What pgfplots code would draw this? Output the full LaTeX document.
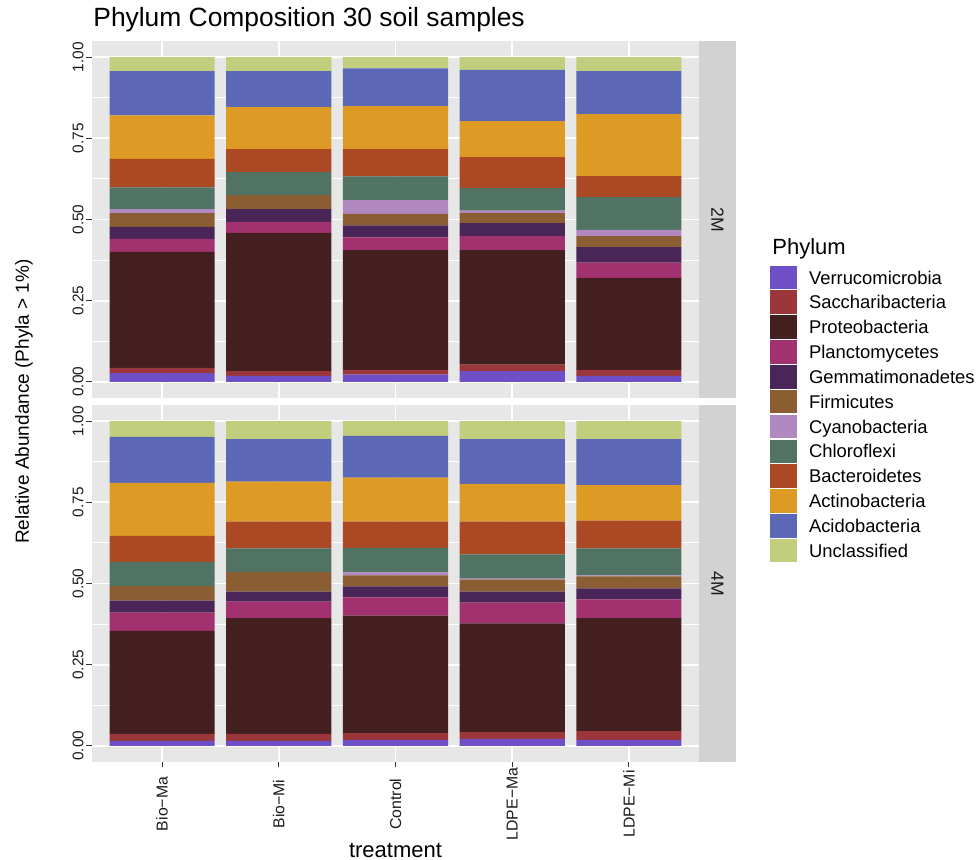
\documentclass[border=0pt]{standalone}
\usepackage{fontspec}
\setmainfont{Liberation Sans}
\usepackage{pgfplots}
\usepackage{pgfplotstable}
\pgfplotsset{compat=1.18}

\definecolor{cV}{HTML}{6E4FC5}
\definecolor{cS}{HTML}{9B363B}
\definecolor{cP}{HTML}{43201F}
\definecolor{cPl}{HTML}{A2326F}
\definecolor{cG}{HTML}{4A2558}
\definecolor{cF}{HTML}{8B5D32}
\definecolor{cC}{HTML}{B189C0}
\definecolor{cCh}{HTML}{517363}
\definecolor{cB}{HTML}{AA4924}
\definecolor{cA}{HTML}{DD9A25}
\definecolor{cAc}{HTML}{5C68B6}
\definecolor{cU}{HTML}{C0CE7D}
\definecolor{panelbg}{HTML}{E7E7E7}
\definecolor{stripbg}{HTML}{D2D2D2}
\definecolor{tickc}{HTML}{333333}
\definecolor{txt}{HTML}{1A1A1A}

% 2M panel
\pgfplotstableread{
x V S P Pl G F C Ch B A Ac U
1 0.027 0.016 0.357 0.040 0.037 0.043 0.012 0.067 0.088 0.134 0.136 0.043
2 0.018 0.015 0.426 0.034 0.039 0.043 0.000 0.071 0.071 0.129 0.111 0.043
3 0.022 0.015 0.369 0.039 0.037 0.035 0.043 0.073 0.084 0.132 0.117 0.034
4 0.033 0.020 0.353 0.043 0.040 0.031 0.007 0.070 0.095 0.111 0.158 0.039
5 0.018 0.019 0.283 0.047 0.048 0.034 0.019 0.101 0.065 0.191 0.132 0.043
}\topdata

% 4M panel
\pgfplotstableread{
x V S P Pl G F C Ch B A Ac U
1 0.015 0.022 0.317 0.056 0.037 0.045 0.000 0.075 0.080 0.163 0.142 0.048
2 0.015 0.022 0.356 0.051 0.031 0.061 0.000 0.072 0.083 0.123 0.131 0.055
3 0.018 0.021 0.362 0.056 0.034 0.034 0.009 0.076 0.081 0.135 0.129 0.045
4 0.021 0.021 0.335 0.064 0.034 0.037 0.003 0.075 0.101 0.116 0.138 0.055
5 0.018 0.027 0.348 0.058 0.034 0.037 0.003 0.083 0.086 0.109 0.142 0.055
}\botdata

\pgfplotsset{
  phy/.style={fill=#1, draw=none,
    legend image code/.code={\fill[#1] (0pt,-5.9pt) rectangle (13.5pt,5.9pt); \path (19.5pt,0pt);}},
  panel/.style={
    width=303.5pt, height=178.5pt, scale only axis,
    xmin=0.4, xmax=5.6, ymin=-0.05, ymax=1.05,
    ybar stacked, bar width=0.9,
    axis background/.style={fill=panelbg},
    axis lines*=left,
    axis line style={draw=none},
    xtick={1,2,3,4,5},
    ytick={0,0.25,0.5,0.75,1},
    yticklabels={0.00,0.25,0.50,0.75,1.00},
    minor ytick={0.125,0.375,0.625,0.875},
    xmajorgrids, ymajorgrids, yminorgrids,
    major grid style={white, line width=0.9pt},
    minor grid style={white, line width=0.45pt},
    tick align=outside, major tick length=2.75pt, minor tick length=0pt,
    tick style={tickc, line width=0.5pt},
    yticklabel style={rotate=90, anchor=south, inner sep=0pt, font=\fontsize{7.7}{9}\selectfont, text=txt},
    yticklabel shift=1.25pt,
    clip=false,
  },
}

\begin{document}
\begin{tikzpicture}
\useasboundingbox (-46pt,20.5pt) rectangle (442pt,-409.5pt);

\begin{axis}[panel, name=top, at={(0,0)}, anchor=north west,
  xticklabels={,,,,}, xtick style={draw=none},
  legend style={at={(1.117,0.3725)}, anchor=north west, draw=none, fill=none,
    inner sep=0pt, outer sep=0pt, row sep=0pt, column sep=0pt,
    nodes={inner sep=0pt, outer sep=0pt, anchor=west, minimum height=12.42pt,
      text height=6.6pt, text depth=0pt, font=\fontsize{9.2}{10}\selectfont, text=black}},
  legend cell align=left]
\addplot[phy=cV] table[x=x,y=V]{\topdata};
\addplot[phy=cS] table[x=x,y=S]{\topdata};
\addplot[phy=cP] table[x=x,y=P]{\topdata};
\addplot[phy=cPl] table[x=x,y=Pl]{\topdata};
\addplot[phy=cG] table[x=x,y=G]{\topdata};
\addplot[phy=cF] table[x=x,y=F]{\topdata};
\addplot[phy=cC] table[x=x,y=C]{\topdata};
\addplot[phy=cCh] table[x=x,y=Ch]{\topdata};
\addplot[phy=cB] table[x=x,y=B]{\topdata};
\addplot[phy=cA] table[x=x,y=A]{\topdata};
\addplot[phy=cAc] table[x=x,y=Ac]{\topdata};
\addplot[phy=cU] table[x=x,y=U]{\topdata};
\legend{Verrucomicrobia,Saccharibacteria,Proteobacteria,Planctomycetes,Gemmatimonadetes,Firmicutes,Cyanobacteria,Chloroflexi,Bacteroidetes,Actinobacteria,Acidobacteria,Unclassified}
\node[anchor=base west, font=\fontsize{13.2}{15}\selectfont, text=black, inner sep=0pt] at ([xshift=0.5pt,yshift=7pt]rel axis cs:0,1) {Phylum Composition 30 soil samples};
\node[anchor=base west, font=\fontsize{11}{13}\selectfont, text=black, inner sep=0pt] at (rel axis cs:1.1203,0.4006) {Phylum};
\end{axis}

\begin{axis}[panel, name=bot, at={(0,-182pt)}, anchor=north west,
  xticklabels={Bio−Ma,Bio−Mi,Control,LDPE−Ma,LDPE−Mi},
  xticklabel style={rotate=90, anchor=center, inner sep=0pt, font=\fontsize{7.9}{9}\selectfont, text=txt},
  xticklabel shift=18.25pt]
\addplot[phy=cV] table[x=x,y=V]{\botdata};
\addplot[phy=cS] table[x=x,y=S]{\botdata};
\addplot[phy=cP] table[x=x,y=P]{\botdata};
\addplot[phy=cPl] table[x=x,y=Pl]{\botdata};
\addplot[phy=cG] table[x=x,y=G]{\botdata};
\addplot[phy=cF] table[x=x,y=F]{\botdata};
\addplot[phy=cC] table[x=x,y=C]{\botdata};
\addplot[phy=cCh] table[x=x,y=Ch]{\botdata};
\addplot[phy=cB] table[x=x,y=B]{\botdata};
\addplot[phy=cA] table[x=x,y=A]{\botdata};
\addplot[phy=cAc] table[x=x,y=Ac]{\botdata};
\addplot[phy=cU] table[x=x,y=U]{\botdata};
\node[rotate=90, font=\fontsize{9.5}{11}\selectfont, text=black] at ([xshift=-34pt,yshift=1.75pt]rel axis cs:0,1) {Relative Abundance (Phyla > 1\%)};
\node[anchor=base, font=\fontsize{11}{13}\selectfont, text=black, inner sep=0pt] at ([yshift=-48pt]rel axis cs:0.5,0) {treatment};
\end{axis}

\fill[stripbg] (top.south east) rectangle ([xshift=18.5pt]top.north east);
\node[rotate=-90, font=\fontsize{8.8}{10}\selectfont, text=txt, inner sep=0pt] at ([xshift=9.25pt]top.east) {2M};
\fill[stripbg] (bot.south east) rectangle ([xshift=18.5pt]bot.north east);
\node[rotate=-90, font=\fontsize{8.8}{10}\selectfont, text=txt, inner sep=0pt] at ([xshift=9.25pt]bot.east) {4M};
\end{tikzpicture}
\end{document}
